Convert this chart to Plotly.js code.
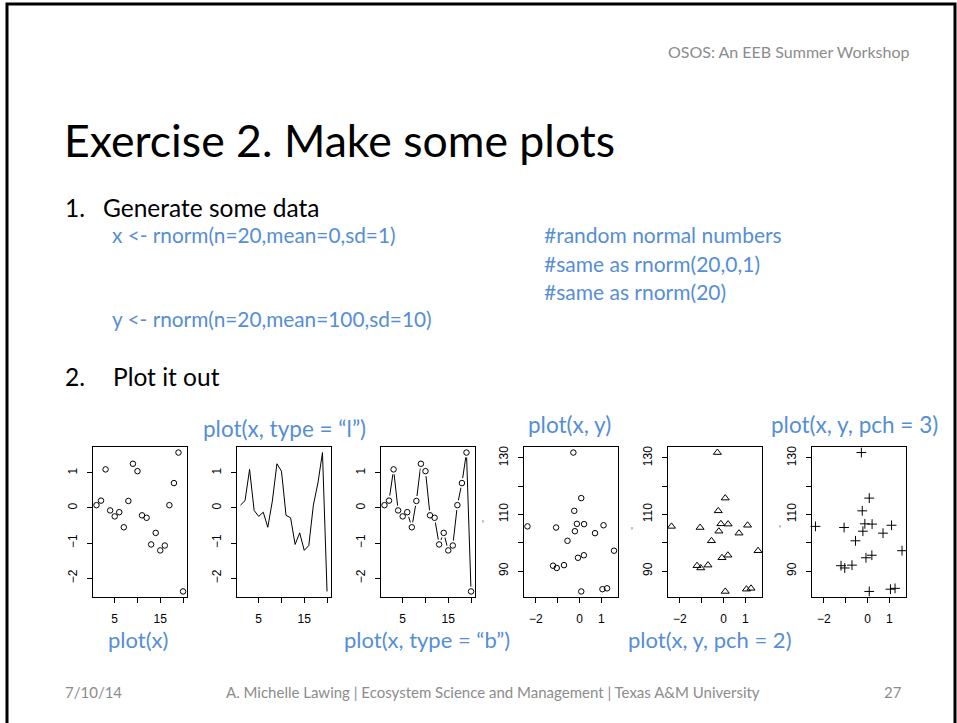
<!DOCTYPE html>
<html>
<head>
<meta charset="utf-8">
<script src="https://cdn.plot.ly/plotly-3.0.1.min.js"></script>
<style>html,body{margin:0;padding:0;background:#fff;}#chart{width:957px;height:723px;}</style>
</head>
<body>
<div id="chart"></div>
<script>
// ---- data ----
const idx = [1,2,3,4,5,6,7,8,9,10,11,12,13,14,15,16,17,18,19,20];
const xVals = [0.08,0.21,1.10,-0.07,-0.24,-0.12,-0.55,0.20,1.26,1.05,-0.21,-0.28,-1.04,-0.71,-1.21,-1.07,0.08,0.71,1.58,-2.38];
const yVals = [82.8,106.6,106.2,94.7,111.3,106.7,100.7,95.6,83.9,83.6,104.1,131.9,91.1,92.1,91.9,105.4,115.8,103.4,97.2,105.8];

const idxTicks = [5,10,15,20];
const idxTickText = ["5","","15",""];
const xValTicks = [-2,-1,0,1,2];
const xValTickText = ["\u22122","","0","1",""];
const smallTicks = [-2,-1,0,1];
const smallTickText = ["\u22122","\u22121","0","1"];
const yValTicks = [90,100,110,120,130];
const yValTickText = ["90","","110","","130"];

const plotLabels = ["plot(x)","plot(x, type = \u201cl\u201d)","plot(x, type = \u201cb\u201d)","plot(x, y)","plot(x, y, pch = 2)","plot(x, y, pch = 3)"];

// ---- layout helpers ----
const W = 957, H = 723;
const px = v => v / W;
const py = v => 1 - v / H;
const BLUE = "#558ED5";
const GRAY = "#8c8c8c";
const SLIDE_FONT = "Lato, 'Open Sans', sans-serif";

function rng(arr) {
  const mn = Math.min(...arr), mx = Math.max(...arr);
  const pad = 0.04 * (mx - mn);
  return [mn - pad, mx + pad];
}

const boxLeft = [93, 237, 381, 524, 668, 812];
const boxW = 93.5;
const boxTop = 447, boxBottom = 597;

const traces = [];
const layout = {
  width: W, height: H,
  margin: {l:0, r:0, t:0, b:0},
  paper_bgcolor: "#fff", plot_bgcolor: "#fff",
  showlegend: false,
  font: {family: "'Liberation Sans', Arial, sans-serif", size: 12, color: "#000"},
  annotations: [], shapes: []
};

function axisCommon() {
  return {
    showline: true, mirror: true, linecolor: "#000", linewidth: 1,
    showgrid: false, zeroline: false,
    ticks: "outside", ticklen: 5, tickwidth: 1, tickcolor: "#000",
    tickfont: {family: "'Liberation Sans', Arial, sans-serif", size: 12, color: "#000"},
    fixedrange: true
  };
}

for (let i = 0; i < 6; i++) {
  const n = i + 1;
  const xa = "xaxis" + (n === 1 ? "" : n);
  const ya = "yaxis" + (n === 1 ? "" : n);
  const xr = "x" + (n === 1 ? "" : n);
  const yr = "y" + (n === 1 ? "" : n);
  const isIndex = i < 3;
  const xd = isIndex ? idx : xVals;
  const yd = isIndex ? xVals : yVals;
  layout[xa] = Object.assign(axisCommon(), {
    domain: [px(boxLeft[i]), px(boxLeft[i] + boxW)],
    anchor: yr,
    range: rng(xd),
    tickmode: "array",
    tickvals: isIndex ? idxTicks : xValTicks,
    ticktext: isIndex ? idxTickText : xValTickText,
    tickangle: 0,
    ticklabelstandoff: 6
  });
  layout[ya] = Object.assign(axisCommon(), {
    domain: [py(boxBottom), py(boxTop)],
    anchor: xr,
    range: rng(yd),
    tickmode: "array",
    tickvals: isIndex ? smallTicks : yValTicks,
    ticktext: isIndex ? smallTickText : yValTickText,
    tickangle: -90,
    ticklabelstandoff: 5
  });

  if (i === 0) {
    traces.push({x: idx, y: xVals, xaxis: xr, yaxis: yr, mode: "markers", type: "scatter",
      marker: {symbol: "circle-open", size: 5.5, color: "#000", line: {width: 1, color: "#000"}}, cliponaxis: false});
  } else if (i === 1) {
    traces.push({x: idx, y: xVals, xaxis: xr, yaxis: yr, mode: "lines", type: "scatter",
      line: {color: "#000", width: 1}, cliponaxis: false});
  } else if (i === 2) {
    traces.push({x: idx, y: xVals, xaxis: xr, yaxis: yr, mode: "lines", type: "scatter",
      line: {color: "#000", width: 1}, cliponaxis: false});
    traces.push({x: idx, y: xVals, xaxis: xr, yaxis: yr, mode: "markers", type: "scatter",
      marker: {symbol: "circle", size: 10, color: "#fff", line: {width: 0}}, cliponaxis: false});
    traces.push({x: idx, y: xVals, xaxis: xr, yaxis: yr, mode: "markers", type: "scatter",
      marker: {symbol: "circle-open", size: 5.5, color: "#000", line: {width: 1, color: "#000"}}, cliponaxis: false});
  } else {
    const sym = i === 3 ? "circle-open" : (i === 4 ? "triangle-up-open" : "cross-thin-open");
    const sz = i === 3 ? 5.5 : 7;
    traces.push({x: xVals, y: yVals, xaxis: xr, yaxis: yr, mode: "markers", type: "scatter",
      marker: {symbol: sym, size: sz, color: "#000", line: {width: 1, color: "#000"}}, cliponaxis: false});
  }
}

function txt(text, x, y, size, color, anchor, family) {
  layout.annotations.push({
    text: text, x: px(x), y: py(y), xref: "paper", yref: "paper",
    xanchor: anchor || "left", yanchor: "middle", showarrow: false, borderpad: 0,
    font: {family: family || SLIDE_FONT, size: size, color: color}
  });
}

// header / title
txt("OSOS: An EEB Summer Workshop", 910, 52, 16, GRAY, "right");
txt("Exercise 2. Make some plots", 63, 140, 44.6, "#000");
txt("1.", 64, 207, 24.5, "#000");
txt("Generate some data", 102, 207, 24.5, "#000");
txt("x <- rnorm(n=20,mean=0,sd=1)", 111, 235, 20.8, BLUE);
txt("#random normal numbers", 543, 235, 21, BLUE);
txt("#same as rnorm(20,0,1)", 543, 263, 21, BLUE);
txt("#same as rnorm(20)", 543, 291, 21, BLUE);
txt("y <- rnorm(n=20,mean=100,sd=10)", 111, 318, 20.8, BLUE);
txt("2.", 64, 376, 24.5, "#000");
txt("Plot it out", 112, 376, 24.5, "#000");

// plot labels
txt(plotLabels[1], 202, 428, 22.5, BLUE);
txt(plotLabels[3], 527, 424, 22.5, BLUE);
txt(plotLabels[5], 770, 424, 22.5, BLUE);
txt(plotLabels[0], 107, 639, 22, BLUE);
txt(plotLabels[2], 343, 639, 22, BLUE);
txt(plotLabels[4], 627, 639, 22, BLUE);

// tiny cropped y-axis titles
txt("y", 483, 520, 4, "#666", "center", "'Liberation Sans'");
txt("y", 632, 527, 4, "#666", "center", "'Liberation Sans'");
txt("y", 780, 525, 4, "#666", "center", "'Liberation Sans'");

// footer
txt("7/10/14", 64, 692, 15, GRAY);
txt("A. Michelle Lawing | Ecosystem Science and Management | Texas A&amp;M University", 493, 692, 15, GRAY, "center");
txt("27", 903, 692, 15, GRAY, "right");

// slide frame
layout.shapes.push({type: "rect", xref: "paper", yref: "paper",
  x0: px(7), x1: px(955), y0: py(760), y1: py(4),
  line: {color: "#000", width: 3}, fillcolor: "rgba(0,0,0,0)", layer: "below"});

Plotly.newPlot("chart", traces, layout, {staticPlot: true, displayModeBar: false});
</script>
</body>
</html>
